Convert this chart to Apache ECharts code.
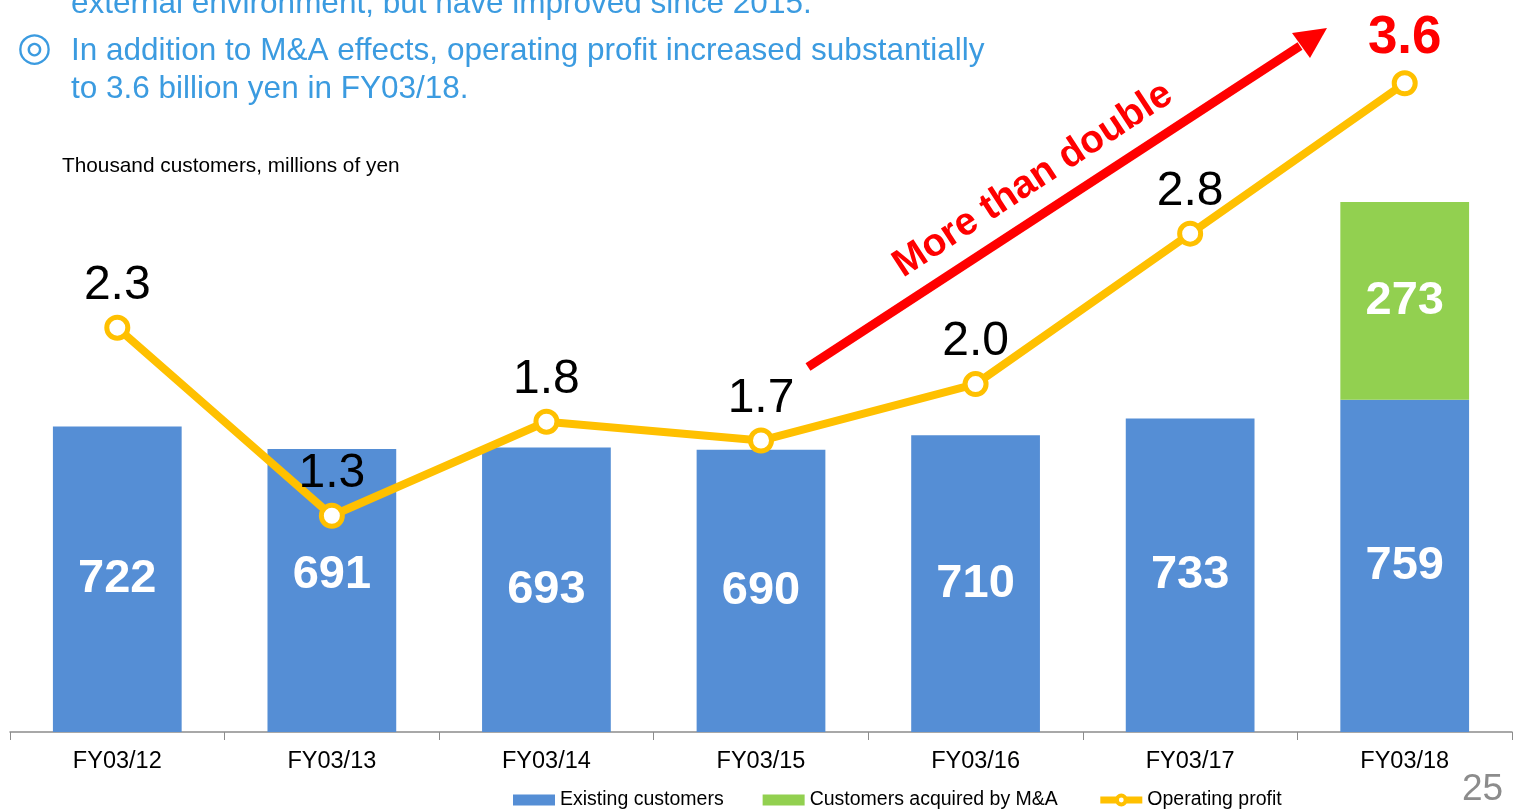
<!DOCTYPE html>
<html>
<head>
<meta charset="utf-8">
<script src="https://cdn.jsdelivr.net/npm/echarts@6/dist/echarts.min.js"></script>
<style>
  html, body { margin: 0; padding: 0; background: #fff; }
  #grafico { width: 1521px; height: 809px; }
</style>
</head>
<body>
<div id="grafico"></div>
<script>
// datos
const categories = ["FY03/12", "FY03/13", "FY03/14", "FY03/15", "FY03/16", "FY03/17", "FY03/18"];
const existingCustomers = [722, 691, 693, 690, 710, 733, 759];
const acquiredCustomers = [null, null, null, null, null, null, 273];
const operatingProfit = [2.3, 1.3, 1.8, 1.7, 2.0, 2.8, 3.6];

const FONT = "Liberation Sans, Arial, sans-serif";
const BLUE_TEXT = "#3B9BE0";

// barras existentes (ajuste del rótulo de 691)
const existingData = existingCustomers.map((v, i) =>
  i === 1 ? { value: v, label: { offset: [0, -15] } } : v
);

// el último punto va en rojo y negrita
const profitData = operatingProfit.map((v, i) =>
  i === operatingProfit.length - 1
    ? { value: v, label: { color: "#FF0000", fontWeight: "bold", fontSize: 53 } }
    : v
);

let options = {
  animation: false,
  textStyle: { fontFamily: FONT },
  grid: { left: 10, right: 9, top: 8, bottom: 77 },
  legend: {
    left: 508,
    top: 785,
    itemWidth: 42,
    itemHeight: 11,
    itemGap: 39,
    textStyle: { fontSize: 19.5, color: "#000", fontFamily: FONT },
    data: [
      { name: "Existing customers", icon: "rect" },
      { name: "Customers acquired by M&A", icon: "rect" },
      {
        name: "Operating profit",
        lineStyle: { width: 7 },
        itemStyle: { borderWidth: 4 }
      }
    ]
  },
  xAxis: {
    type: "category",
    data: categories,
    axisLine: { lineStyle: { color: "#8c8c8c", width: 1.5 } },
    axisTick: { show: true, length: 8, lineStyle: { color: "#8c8c8c" } },
    axisLabel: { color: "#000", fontSize: 23.5, margin: 18, fontFamily: FONT }
  },
  yAxis: [
    { type: "value", min: 300, max: 1300, show: false, splitLine: { show: false } },
    { type: "value", min: 0.15, max: 4.0, show: false, splitLine: { show: false } }
  ],
  series: [
    {
      name: "Existing customers",
      type: "bar",
      stack: "customers",
      barWidth: "60%",
      itemStyle: { color: "#558ED5" },
      label: {
        show: true,
        position: "inside",
        color: "#fff",
        fontWeight: "bold",
        fontSize: 47,
        fontFamily: FONT
      },
      data: existingData
    },
    {
      name: "Customers acquired by M&A",
      type: "bar",
      stack: "customers",
      barWidth: "60%",
      itemStyle: { color: "#92D050" },
      label: {
        show: true,
        position: "inside",
        color: "#fff",
        fontWeight: "bold",
        fontSize: 47,
        fontFamily: FONT
      },
      data: acquiredCustomers
    },
    {
      name: "Operating profit",
      type: "line",
      yAxisIndex: 1,
      z: 5,
      symbol: "circle",
      symbolSize: 21,
      lineStyle: { color: "#FFC000", width: 8 },
      itemStyle: { color: "#fff", borderColor: "#FFC000", borderWidth: 5 },
      label: {
        show: true,
        position: "top",
        distance: 5,
        color: "#000",
        fontSize: 48,
        fontFamily: FONT,
        formatter: p => p.value.toFixed(1)
      },
      data: profitData
    }
  ],
  graphic: [
    // texto de la diapositiva
    {
      type: "text", left: 71, top: -12,
      style: { text: "external environment, but have improved since 2015.", fill: BLUE_TEXT, font: "31.5px " + FONT }
    },
    {
      type: "text", left: 17, top: 30,
      style: { text: "◎", fill: BLUE_TEXT, font: "40px DejaVu Sans" }
    },
    {
      type: "text", left: 71, top: 35,
      style: { text: "In addition to M&A effects, operating profit increased substantially", fill: BLUE_TEXT, font: "31.5px " + FONT }
    },
    {
      type: "text", left: 71, top: 73,
      style: { text: "to 3.6 billion yen in FY03/18.", fill: BLUE_TEXT, font: "31.5px " + FONT }
    },
    {
      type: "text", left: 62, top: 156,
      style: { text: "Thousand customers, millions of yen", fill: "#000", font: "20.8px " + FONT }
    },
    {
      type: "text", left: 1462, top: 771,
      style: { text: "25", fill: "#8c8c8c", font: "37px " + FONT }
    },
    // flecha roja
    {
      type: "line",
      shape: { x1: 808, y1: 367, x2: 1300, y2: 46 },
      style: { stroke: "#FF0000", lineWidth: 9 },
      z: 10
    },
    {
      type: "polygon",
      shape: { points: [[1327, 28], [1310, 58], [1292, 33]] },
      style: { fill: "#FF0000" },
      z: 10
    },
    {
      type: "text",
      x: 1033, y: 180,
      rotation: 0.58,
      style: {
        text: "More than double",
        fill: "#FF0000",
        font: "bold 39px " + FONT,
        align: "center",
        verticalAlign: "middle"
      },
      z: 10
    }
  ]
};

let chart = echarts.init(document.getElementById("grafico"));
chart.setOption(options);
</script>
</body>
</html>
